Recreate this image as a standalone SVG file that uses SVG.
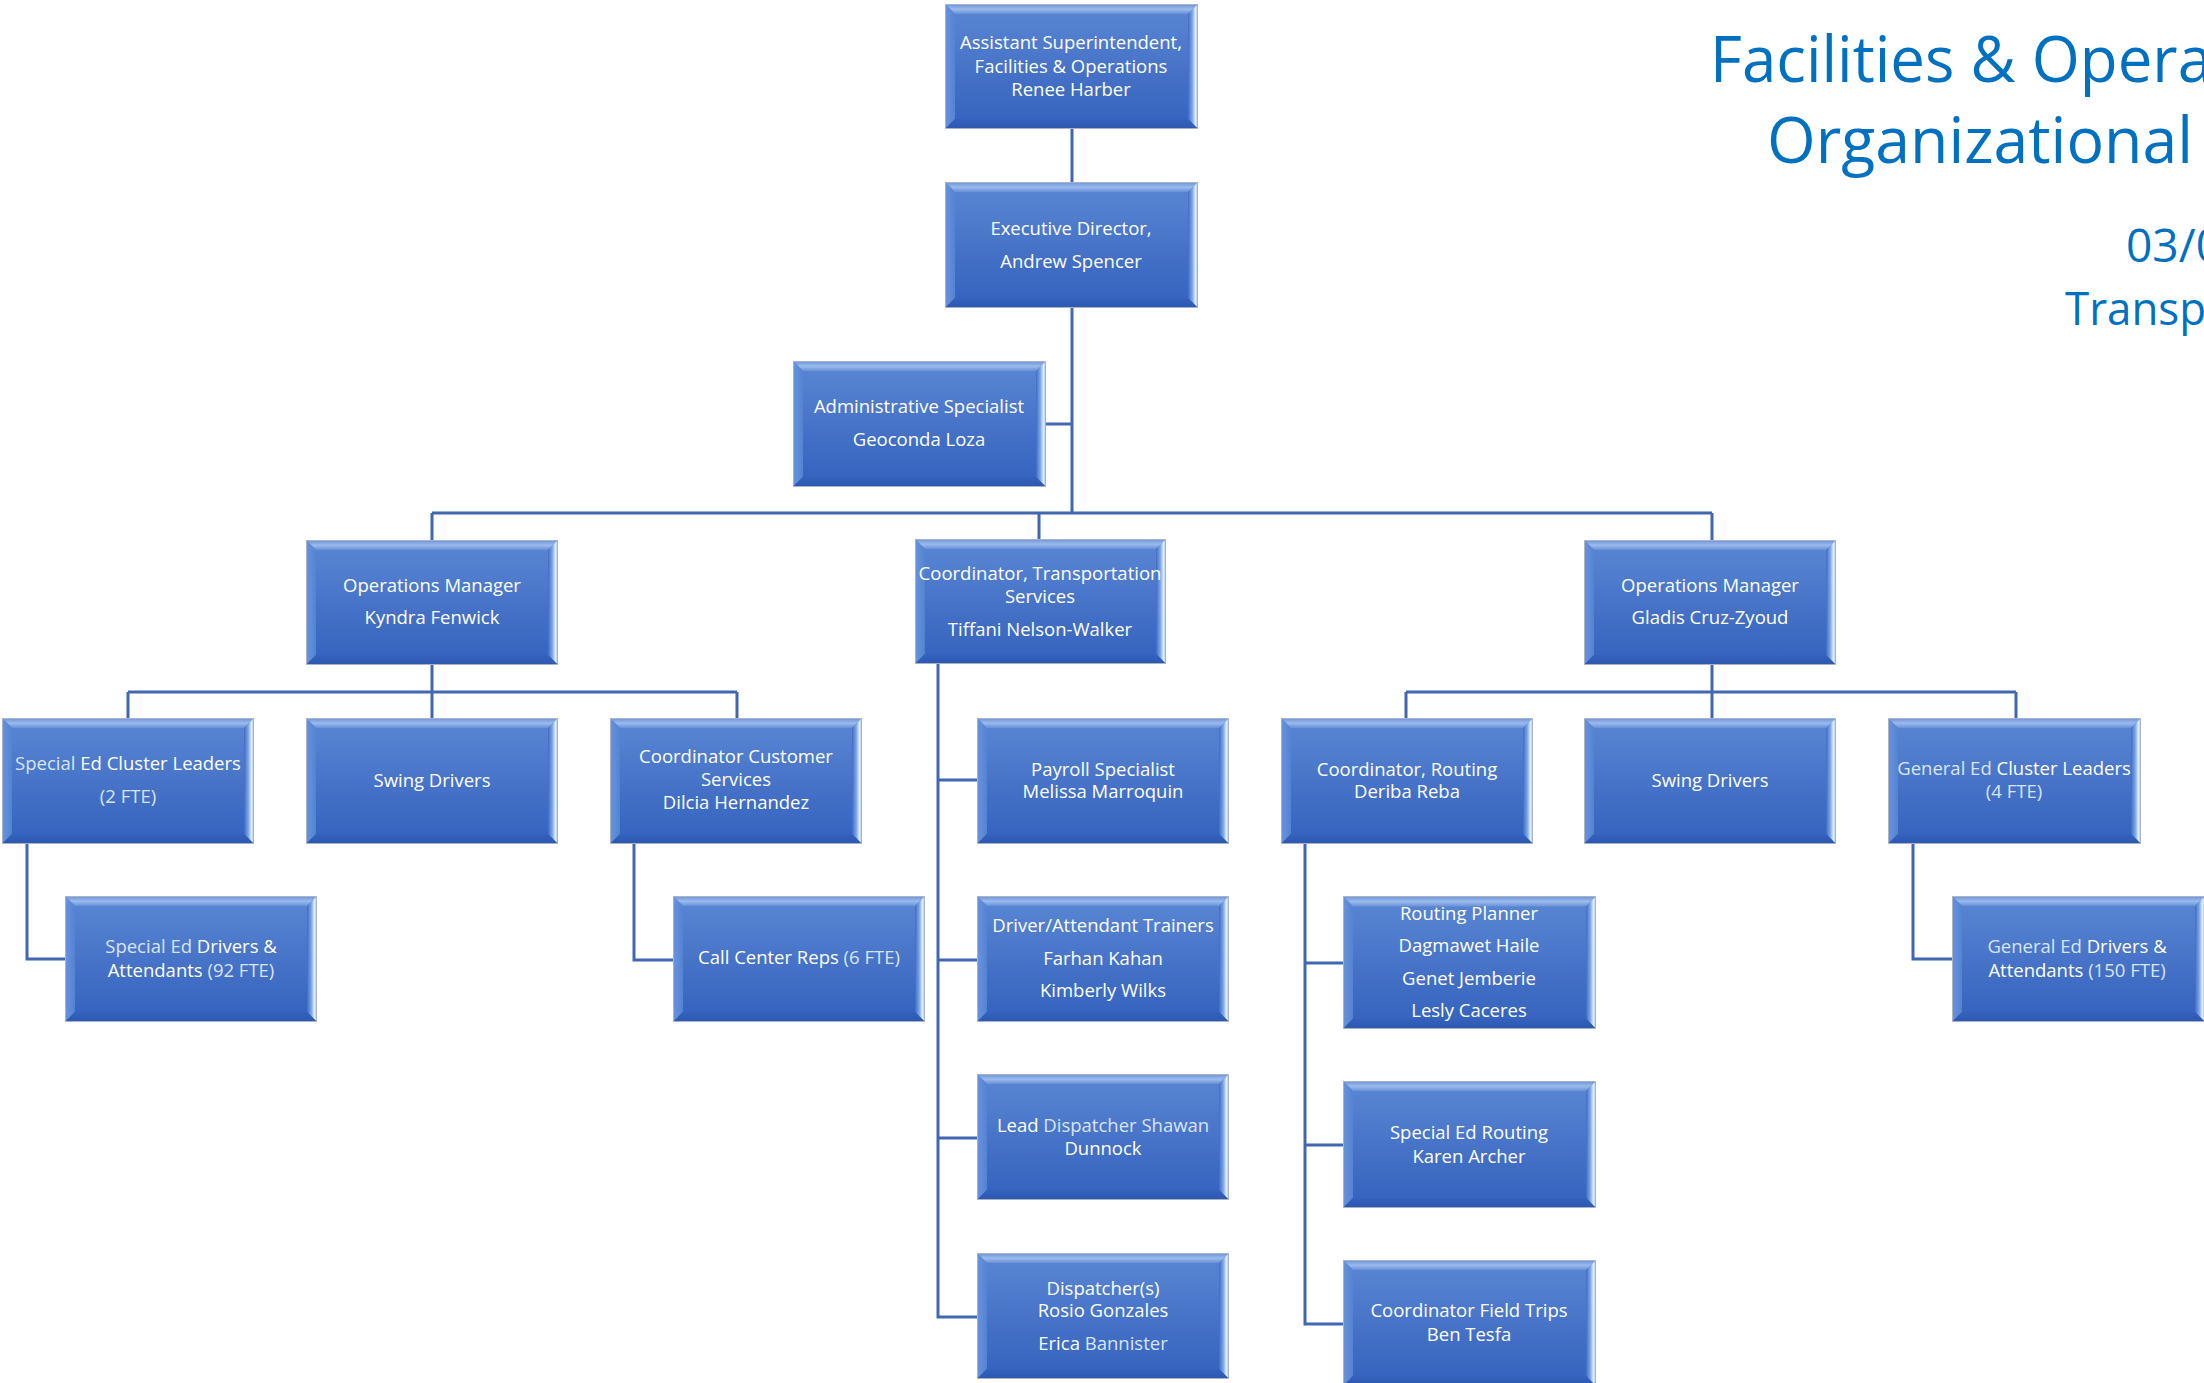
<svg xmlns="http://www.w3.org/2000/svg" xmlns:xlink="http://www.w3.org/1999/xlink" width="2204" height="1383" viewBox="0 0 2204 1383">
<style>
.t{font-family:'Open Sans','Noto Sans','Liberation Sans',sans-serif;font-size:18.5px;fill:#ffffff;text-anchor:middle}
.lt{fill:#d9e4f6}
.ttl{font-family:'Open Sans','Noto Sans','Liberation Sans',sans-serif;fill:#0070c0}
.conn{fill:none;stroke:#4267b2;stroke-width:3;stroke-linejoin:miter}
</style>
<defs>
<linearGradient id="gMain" x1="0" y1="0" x2="0" y2="1">
<stop offset="0" stop-color="#5a87d3"/><stop offset="0.5" stop-color="#4774c8"/><stop offset="1" stop-color="#3461bd"/>
</linearGradient>
<linearGradient id="gTop" x1="0" y1="0" x2="0" y2="1">
<stop offset="0" stop-color="#6d95da"/><stop offset="0.5" stop-color="#9bbbed"/><stop offset="1" stop-color="#6890d7"/>
</linearGradient>
<linearGradient id="gLeft" x1="0" y1="0" x2="1" y2="0">
<stop offset="0" stop-color="#6793dc"/><stop offset="1" stop-color="#5583d2"/>
</linearGradient>
<linearGradient id="gRight" x1="0" y1="0" x2="1" y2="0">
<stop offset="0" stop-color="#3f6cc3"/><stop offset="0.45" stop-color="#7ea6e6"/><stop offset="0.8" stop-color="#e2f1ff"/><stop offset="1" stop-color="#a9bfe2"/>
</linearGradient>
<linearGradient id="gBot" x1="0" y1="0" x2="0" y2="1">
<stop offset="0" stop-color="#3562bd"/><stop offset="1" stop-color="#2c58b0"/>
</linearGradient>
<symbol id="box" viewBox="0 0 253 126" preserveAspectRatio="none">
<rect x="0.5" y="0.5" width="252" height="125" fill="url(#gMain)"/>
<polygon points="0.5,0.5 252.5,0.5 243,10 10,10" fill="url(#gTop)"/>
<polygon points="0.5,0.5 10,10 10,116 0.5,125.5" fill="url(#gLeft)"/>
<polygon points="252.5,0.5 252.5,125.5 243,116 243,10" fill="url(#gRight)"/>
<polygon points="0.5,125.5 252.5,125.5 243,116 10,116" fill="url(#gBot)"/>
<rect x="0.5" y="0.5" width="252" height="125" fill="none" stroke="#aab3c6" stroke-width="1" vector-effect="non-scaling-stroke"/>
</symbol>
</defs>
<rect width="2204" height="1383" fill="#ffffff"/>

<g id="title">
<text class="ttl" x="1710" y="82" font-size="64" textLength="502" lengthAdjust="spacingAndGlyphs">Facilities &amp; Opera</text>
<text class="ttl" x="1767" y="163" font-size="64" textLength="426" lengthAdjust="spacingAndGlyphs">Organizational</text>
<text class="ttl" x="2126" y="262" font-size="46" textLength="96" lengthAdjust="spacingAndGlyphs">03/0</text>
<text class="ttl" x="2065" y="325" font-size="46" textLength="141" lengthAdjust="spacingAndGlyphs">Transp</text>
</g>

<g id="connectors" class="conn">
<path d="M1072 129V182"/>
<path d="M1072 308V513"/>
<path d="M1046 424H1072"/>
<path d="M432 513H1712"/>
<path d="M432 513V540M1039 513V539M1712 513V540"/>
<path d="M432 665V692M128 692H737M128 692V718M432 692V718M737 692V718"/>
<path d="M27 844V959H65"/>
<path d="M634 844V960H673"/>
<path d="M938 664V1317H977M938 780H977M938 960H977M938 1138H977"/>
<path d="M1712 665V692M1406 692H2016M1406 692V718M1712 692V718M2016 692V718"/>
<path d="M1305 844V1324H1343M1305 963H1343M1305 1145H1343"/>
<path d="M1913 844V959H1952"/>
</g>

<g id="n-asst">
<use href="#box" xlink:href="#box" x="945" y="4" width="253" height="125"/>
<text class="t"><tspan x="1071" y="49">Assistant Superintendent,</tspan><tspan x="1071" y="73">Facilities &amp; Operations</tspan><tspan x="1071" y="96">Renee Harber</tspan></text>
</g>
<g id="n-exec">
<use href="#box" xlink:href="#box" x="945" y="182" width="253" height="126"/>
<text class="t"><tspan x="1071" y="235">Executive Director,</tspan><tspan x="1071" y="268">Andrew Spencer</tspan></text>
</g>
<g id="n-admin">
<use href="#box" xlink:href="#box" x="793" y="361" width="253" height="126"/>
<text class="t"><tspan x="919" y="413">Administrative Specialist</tspan><tspan x="919" y="446">Geoconda Loza</tspan></text>
</g>
<g id="n-ops-left">
<use href="#box" xlink:href="#box" x="306" y="540" width="252" height="125"/>
<text class="t"><tspan x="432" y="592">Operations Manager</tspan><tspan x="432" y="624">Kyndra Fenwick</tspan></text>
</g>
<g id="n-coord-transport">
<use href="#box" xlink:href="#box" x="915" y="539" width="251" height="125"/>
<text class="t"><tspan x="1040" y="580">Coordinator, Transportation</tspan><tspan x="1040" y="603">Services</tspan><tspan x="1040" y="636">Tiffani Nelson-Walker</tspan></text>
</g>
<g id="n-ops-right">
<use href="#box" xlink:href="#box" x="1584" y="540" width="252" height="125"/>
<text class="t"><tspan x="1710" y="592">Operations Manager</tspan><tspan x="1710" y="624">Gladis Cruz-Zyoud</tspan></text>
</g>

<g id="n-sped-cluster">
<use href="#box" xlink:href="#box" x="2" y="718" width="252" height="126"/>
<text class="t"><tspan x="128" y="770"><tspan class="lt">Special</tspan> Ed Cluster Leaders</tspan><tspan x="128" y="803" class="lt">(2 FTE)</tspan></text>
</g>
<g id="n-swing-left">
<use href="#box" xlink:href="#box" x="306" y="718" width="252" height="126"/>
<text class="t"><tspan x="432" y="787">Swing Drivers</tspan></text>
</g>
<g id="n-coord-customer">
<use href="#box" xlink:href="#box" x="610" y="718" width="252" height="126"/>
<text class="t"><tspan x="736" y="763">Coordinator Customer</tspan><tspan x="736" y="786">Services</tspan><tspan x="736" y="809">Dilcia Hernandez</tspan></text>
</g>
<g id="n-payroll">
<use href="#box" xlink:href="#box" x="977" y="718" width="252" height="126"/>
<text class="t"><tspan x="1103" y="776">Payroll Specialist</tspan><tspan x="1103" y="798">Melissa Marroquin</tspan></text>
</g>
<g id="n-coord-routing">
<use href="#box" xlink:href="#box" x="1281" y="718" width="252" height="126"/>
<text class="t"><tspan x="1407" y="776">Coordinator, Routing</tspan><tspan x="1407" y="798">Deriba Reba</tspan></text>
</g>
<g id="n-swing-right">
<use href="#box" xlink:href="#box" x="1584" y="718" width="252" height="126"/>
<text class="t"><tspan x="1710" y="787">Swing Drivers</tspan></text>
</g>
<g id="n-gened-cluster">
<use href="#box" xlink:href="#box" x="1888" y="718" width="253" height="126"/>
<text class="t"><tspan x="2014" y="775"><tspan class="lt">General Ed</tspan> Cluster Leaders</tspan><tspan x="2014" y="798" class="lt">(4 FTE)</tspan></text>
</g>

<g id="n-sped-drivers">
<use href="#box" xlink:href="#box" x="65" y="896" width="252" height="126"/>
<text class="t"><tspan x="191" y="953"><tspan class="lt">Special Ed </tspan> Drivers &amp;</tspan><tspan x="191" y="977">Attendants <tspan class="lt">(92 FTE)</tspan></tspan></text>
</g>
<g id="n-call-center">
<use href="#box" xlink:href="#box" x="673" y="896" width="252" height="126"/>
<text class="t"><tspan x="799" y="964">Call Center Reps <tspan class="lt">(6 FTE)</tspan></tspan></text>
</g>
<g id="n-trainers">
<use href="#box" xlink:href="#box" x="977" y="896" width="252" height="126"/>
<text class="t"><tspan x="1103" y="932">Driver/Attendant Trainers</tspan><tspan x="1103" y="965">Farhan Kahan</tspan><tspan x="1103" y="997">Kimberly Wilks</tspan></text>
</g>
<g id="n-routing-planner">
<use href="#box" xlink:href="#box" x="1343" y="896" width="253" height="133"/>
<text class="t"><tspan x="1469" y="920">Routing Planner</tspan><tspan x="1469" y="952">Dagmawet Haile</tspan><tspan x="1469" y="985">Genet Jemberie</tspan><tspan x="1469" y="1017">Lesly Caceres</tspan></text>
</g>
<g id="n-gened-drivers">
<use href="#box" xlink:href="#box" x="1952" y="896" width="253" height="126"/>
<text class="t"><tspan x="2077" y="953"><tspan class="lt">General Ed</tspan> Drivers &amp;</tspan><tspan x="2077" y="977">Attendants <tspan class="lt">(150 FTE)</tspan></tspan></text>
</g>

<g id="n-lead-dispatcher">
<use href="#box" xlink:href="#box" x="977" y="1074" width="252" height="126"/>
<text class="t"><tspan x="1103" y="1132">Lead <tspan class="lt">Dispatcher Shawan</tspan></tspan><tspan x="1103" y="1155">Dunnock</tspan></text>
</g>
<g id="n-sped-routing">
<use href="#box" xlink:href="#box" x="1343" y="1081" width="253" height="127"/>
<text class="t"><tspan x="1469" y="1139">Special Ed Routing</tspan><tspan x="1469" y="1163">Karen Archer</tspan></text>
</g>

<g id="n-dispatchers">
<use href="#box" xlink:href="#box" x="977" y="1253" width="252" height="126"/>
<text class="t"><tspan x="1103" y="1295">Dispatcher(s)</tspan><tspan x="1103" y="1317">Rosio Gonzales</tspan><tspan x="1103" y="1350">Erica <tspan class="lt">Bannister</tspan></tspan></text>
</g>
<g id="n-field-trips">
<use href="#box" xlink:href="#box" x="1343" y="1260" width="253" height="126"/>
<text class="t"><tspan x="1469" y="1317">Coordinator Field Trips</tspan><tspan x="1469" y="1341">Ben Tesfa</tspan></text>
</g>
</svg>
